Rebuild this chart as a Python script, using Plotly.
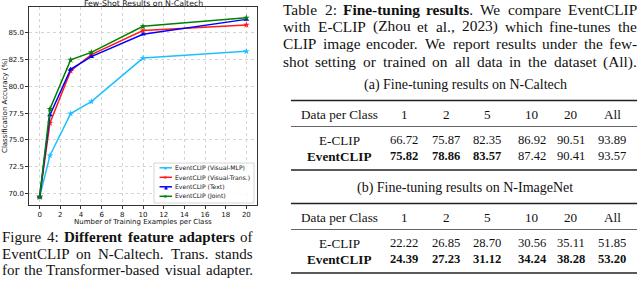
import plotly.graph_objects as go

W, H = 640, 281

# ---------------- chart data ----------------
shots = [0, 1, 3, 5, 10, 20]
acc_visual_mlp = [69.66, 73.53, 77.45, 78.58, 82.65, 83.28]
acc_visual_trans = [69.66, 76.58, 81.45, 82.98, 85.22, 85.75]
acc_text = [69.66, 77.32, 81.60, 82.78, 84.88, 86.27]
acc_joint = [69.66, 77.88, 82.48, 83.18, 85.62, 86.42]

series_names = ["EventCLIP (Visual-MLP)", "EventCLIP (Visual-Trans.)",
                "EventCLIP (Text)", "EventCLIP (Joint)"]
series_values = [acc_visual_mlp, acc_visual_trans, acc_text, acc_joint]
series_colors = ["#1ec0ff", "#ff1a1a", "#0000ff", "#008000"]
series_symbols = ["star", "star", "triangle-up", "star"]
legend_glyphs = ["★", "★", "▲", "★"]

x_ticks = [0, 2, 4, 6, 8, 10, 12, 14, 16, 18, 20]
y_ticks = [70.0, 72.5, 75.0, 77.5, 80.0, 82.5, 85.0]

# ---------------- table data ----------------
table_cols = ["1", "2", "5", "10", "20", "All"]
caltech_eclip = [66.72, 75.87, 82.35, 86.92, 90.51, 93.89]
caltech_eventclip = [75.82, 78.86, 83.57, 87.42, 90.41, 93.57]
caltech_bold = [True, True, True, False, False, False]
imagenet_eclip = [22.22, 26.85, 28.70, 30.56, 35.11, 51.85]
imagenet_eventclip = [24.39, 27.23, 31.12, 34.24, 38.28, 53.20]
imagenet_bold = [True, True, True, True, True, True]

# ---------------- caption texts (words marked ** are bold) ----------------
fig_caption_lines = [
    "Figure 4: **Different** **feature** **adapters** of",
    "EventCLIP on N-Caltech. Trans. stands",
    "for the Transformer-based visual adapter.",
]
table_caption_lines = [
    "Table 2: **Fine-tuning** **results**. We compare EventCLIP",
    "with E-CLIP (Zhou et al., 2023) which fine-tunes the",
    "CLIP image encoder. We report results under the few-",
    "shot setting or trained on all data in the dataset (All).",
]

SANS = "DejaVu Sans"
SERIF = "Liberation Serif"

# Times (Liberation Serif compatible) advance widths, per 1000 em
_UP_R = dict(zip("ABCDEFGHIJKLMNOPQRSTUVWXYZ",
                 [722, 667, 667, 722, 611, 556, 722, 722, 333, 389, 722, 611, 889,
                  722, 722, 556, 722, 667, 556, 611, 722, 722, 944, 722, 722, 611]))
_LO_R = dict(zip("abcdefghijklmnopqrstuvwxyz",
                 [444, 500, 444, 500, 444, 333, 500, 500, 278, 278, 500, 278, 778,
                  500, 500, 500, 500, 333, 389, 278, 500, 500, 722, 500, 500, 444]))
_UP_B = dict(zip("ABCDEFGHIJKLMNOPQRSTUVWXYZ",
                 [722, 667, 722, 722, 667, 611, 778, 778, 389, 500, 778, 667, 944,
                  722, 778, 611, 778, 722, 556, 667, 722, 722, 1000, 722, 722, 667]))
_LO_B = dict(zip("abcdefghijklmnopqrstuvwxyz",
                 [500, 556, 444, 556, 444, 333, 500, 556, 278, 333, 556, 278, 833,
                  556, 500, 556, 556, 444, 389, 333, 556, 500, 722, 500, 500, 444]))
_PUNCT = {" ": 250, "(": 333, ")": 333, ",": 250, "-": 333, ".": 250, ":": 278, "%": 833}
ROMAN = {**_UP_R, **_LO_R, **_PUNCT, **{d: 500 for d in "0123456789"}}
BOLD = {**_UP_B, **_LO_B, **_PUNCT, ":": 333, **{d: 500 for d in "0123456789"}}


def px(x):
    return x / W


def py(y):
    return 1 - y / H


fig = go.Figure()
for name, vals, col, sym in zip(series_names, series_values, series_colors, series_symbols):
    fig.add_trace(go.Scatter(
        x=shots, y=vals, name=name, mode="lines+markers",
        line=dict(color=col, width=1.5),
        marker=dict(symbol=sym, size=5, color=col),
        showlegend=False,
    ))

annotations = []
shapes = []


def text(x, y, s, size, family, xanchor="center", color="#111111", textangle=0):
    annotations.append(dict(
        x=px(x), y=py(y), xref="paper", yref="paper", text=s, showarrow=False,
        font=dict(size=size, family=family, color=color),
        xanchor=xanchor, yanchor="middle", textangle=textangle,
        borderpad=0, borderwidth=0,
    ))


def hline(x0, x1, y, width, color="#222222"):
    shapes.append(dict(type="line", xref="paper", yref="paper",
                       x0=px(x0), x1=px(x1), y0=py(y), y1=py(y),
                       line=dict(color=color, width=width)))


def parse_word(w):
    # "**word**rest" -> [(word, True), (rest, False)]
    if w.startswith("**"):
        end = w.index("**", 2)
        segs = [(w[2:end], True)]
        if w[end + 2:]:
            segs.append((w[end + 2:], False))
        return segs
    return [(w, False)]


def seg_width(segs, size):
    total = 0
    for s, b in segs:
        tab = BOLD if b else ROMAN
        total += sum(tab.get(ch, 500) for ch in s)
    return total * size / 1000.0


def justified_line(line, x0, x1, y, size):
    words = [parse_word(w) for w in line.split(" ")]
    widths = [seg_width(w, size) for w in words]
    gap = (x1 - x0 - sum(widths)) / (len(words) - 1)
    x = x0
    for i, (segs, wd) in enumerate(zip(words, widths)):
        html = "".join(f"<b>{s}</b>" if b else s for s, b in segs)
        if i == len(words) - 1:
            text(x1, y, html, size, SERIF, xanchor="right")
        else:
            text(x, y, html, size, SERIF, xanchor="left")
        x += wd + gap


# chart title and axis titles
text(143, 3.4, "Few-Shot Results on N-Caltech", 7.8, SANS, color="#111111")
text(143, 222, "Number of Training Examples per Class", 7, SANS)
text(5, 106, "Classification Accuracy (%)", 7, SANS, textangle=-90)

# manual legend (compact, matplotlib-like)
shapes.append(dict(type="rect", xref="paper", yref="paper", layer="above",
                   x0=px(154), x1=px(254), y0=py(203), y1=py(163),
                   line=dict(color="#cccccc", width=0.8),
                   fillcolor="rgba(255,255,255,0.85)"))
legend_y = [167.8, 177.3, 186.8, 196.3]
for name, col, g, ly in zip(series_names, series_colors, legend_glyphs, legend_y):
    shapes.append(dict(type="line", xref="paper", yref="paper", layer="above",
                       x0=px(159.5), x1=px(172), y0=py(ly), y1=py(ly),
                       line=dict(color=col, width=1.5)))
    text(165.8, ly, g, 5, SANS, color=col)
    text(175, ly, name, 6.1, SANS, xanchor="left", color="#111111")

# left caption (Figure 4), justified
for line, ly in zip(fig_caption_lines, [237, 253.5, 270]):
    justified_line(line, 2, 253, ly, 15.0)

# right caption (Table 2), justified
for line, ly in zip(table_caption_lines, [9, 26.5, 44, 61.5]):
    justified_line(line, 283, 637, ly, 15.4)

# tables
col_x = [404, 446, 487, 532, 571, 612]
label_x = 339
rule_x0, rule_x1 = 291, 637
TS = 12.6
LS = 13.2
SUB = 14


def draw_table(sub_y, sub_text, top, header_y, mid, row1, row2, bottom, eclip, evc, bold):
    text(465, sub_y, sub_text, SUB, SERIF)
    hline(rule_x0, rule_x1, top, 1.3)
    text(label_x, header_y, "Data per Class", LS, SERIF)
    for cx, c in zip(col_x, table_cols):
        text(cx, header_y, c, LS, SERIF)
    hline(rule_x0, rule_x1, mid, 0.7)
    text(label_x, row1, "E-CLIP", LS, SERIF)
    text(label_x, row2, "<b>EventCLIP</b>", LS, SERIF)
    for cx, a, b, bb in zip(col_x, eclip, evc, bold):
        text(cx, row1, f"{a:.2f}", TS, SERIF)
        text(cx, row2, f"<b>{b:.2f}</b>" if bb else f"{b:.2f}", TS, SERIF)
    hline(rule_x0, rule_x1, bottom, 1.3)


draw_table(85, "(a) Fine-tuning results on N-Caltech", 100.5, 114.5, 126.5, 140, 156, 170,
           caltech_eclip, caltech_eventclip, caltech_bold)
draw_table(188, "(b) Fine-tuning results on N-ImageNet", 203.5, 217, 229.5, 243, 259, 273,
           imagenet_eclip, imagenet_eventclip, imagenet_bold)

fig.update_layout(
    width=W, height=H,
    margin=dict(l=0, r=0, t=0, b=0),
    paper_bgcolor="white", plot_bgcolor="white",
    showlegend=False,
    annotations=annotations,
    shapes=shapes,
    xaxis=dict(
        domain=[px(29.3), px(256.7)], range=[-1, 21],
        tickvals=x_ticks, ticktext=[str(t) for t in x_ticks],
        showgrid=True, gridcolor="#d4d4d4", griddash="dot", gridwidth=0.8,
        zeroline=False, showline=True, linecolor="#333333", linewidth=0.8, mirror=True,
        ticks="outside", ticklen=3, tickwidth=0.7, tickcolor="#333333",
        tickfont=dict(family=SANS, size=7, color="#111111"),
        automargin=False, fixedrange=True,
    ),
    yaxis=dict(
        domain=[py(205), py(7.3)], range=[68.9, 87.4],
        tickvals=y_ticks, ticktext=[f"{t:.1f}" for t in y_ticks],
        showgrid=True, gridcolor="#d4d4d4", griddash="dot", gridwidth=0.8,
        zeroline=False, showline=True, linecolor="#333333", linewidth=0.8, mirror=True,
        ticks="outside", ticklen=3, tickwidth=0.7, tickcolor="#333333",
        tickfont=dict(family=SANS, size=7, color="#111111"),
        automargin=False, fixedrange=True,
    ),
)

fig.write_html(
    "out.html",
    config={"displayModeBar": False},
    post_script="document.body.style.margin='0';document.body.style.overflow='hidden';",
)
